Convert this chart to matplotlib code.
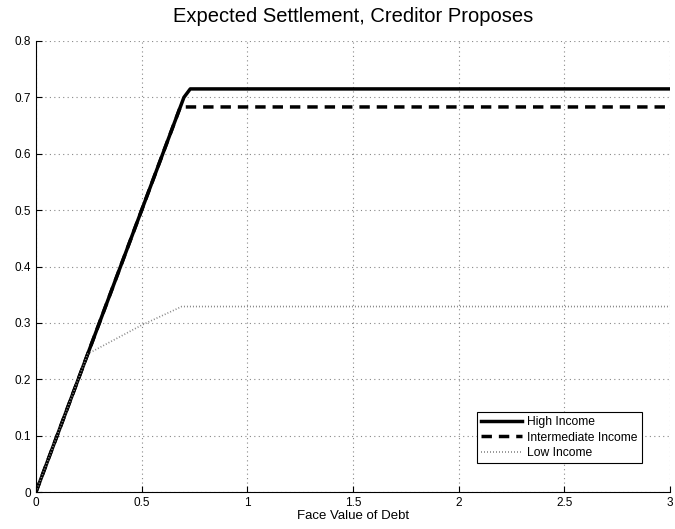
import matplotlib.pyplot as plt
import numpy as np

plt.rcParams['font.family'] = ['Liberation Sans', 'DejaVu Sans']

# face value of debt vs expected settlement, by income type
x_high = [0, 0.70, 0.73, 3]
y_high = [0, 0.70, 0.715, 0.715]

x_mid = [0, 0.683, 3]
y_mid = [0, 0.683, 0.683]

x_low = [0, 0.245, 0.5, 0.69, 3]
y_low = [0, 0.245, 0.296, 0.329, 0.329]

xticks = [0, 0.5, 1, 1.5, 2, 2.5, 3]
yticks = [0, 0.1, 0.2, 0.3, 0.4, 0.5, 0.6, 0.7, 0.8]

fig = plt.figure(figsize=(6.75, 5.29), dpi=100)
ax = fig.add_axes([0.0533, 0.0699, 0.9393, 0.8526])

ax.plot(x_high, y_high, color='black', lw=2.5, label='High Income')
ax.plot(x_mid, y_mid, color='black', lw=2.5, ls=(0, (3, 2)), label='Intermediate Income')
ax.plot(x_low, y_low, color='#888888', lw=1.2, ls=(0, (0.6, 1.2)), label='Low Income')

ax.set_xlim(0, 3)
ax.set_ylim(0, 0.8)
ax.set_xticks(xticks)
ax.set_xticklabels([f'{v:g}' for v in xticks])
ax.set_yticks(yticks)
ax.set_yticklabels([f'{v:g}' for v in yticks])
ax.tick_params(direction='in', length=4, labelsize=8.5, width=0.8)
ax.grid(True, ls=(0, (1, 3)), color='#888888', lw=0.8)

for s in ['top', 'right']:
    ax.spines[s].set_visible(False)
for s in ['left', 'bottom']:
    ax.spines[s].set_linewidth(0.8)

ax.set_title('Expected Settlement, Creditor Proposes', fontsize=14.5, pad=14)
ax.set_xlabel('Face Value of Debt', fontsize=9.5, labelpad=1)

leg = ax.legend(loc='lower right', bbox_to_anchor=(0.965, 0.05), fontsize=8.7,
                fancybox=False, edgecolor='black', framealpha=1,
                handlelength=3.4, borderpad=0.35, labelspacing=0.3, handletextpad=0.4)
leg.get_frame().set_linewidth(0.8)

fig.savefig('out.png', dpi=100)
